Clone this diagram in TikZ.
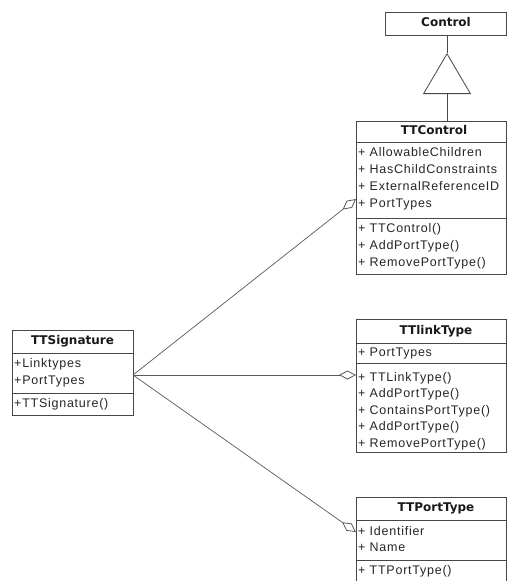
\documentclass[tikz,border=0pt]{standalone}
\usepackage{fontspec}
\setmainfont{DejaVu Sans}
\newfontfamily\memberfont[LetterSpace=6]{Liberation Sans}
\usetikzlibrary{arrows.meta}
\begin{document}
\begin{tikzpicture}[x=1pt,y=-1pt,
  umlline/.style={draw=black!72, line width=0.8pt},
  classbox/.style={umlline, fill=white, anchor=north west, inner sep=0pt, outer sep=0pt},
  member/.style={anchor=west, inner sep=0pt, text height=9pt, text depth=3pt,
    text=black!85, font=\memberfont\fontsize{12.5}{14}\selectfont},
  classtitle/.style={anchor=center, inner sep=0pt, text height=9pt, text depth=3pt,
    text=black!90, font=\fontsize{12}{14}\selectfont\bfseries},
  aggregation/.style={draw=black!65, line width=0.7pt,
    -{Diamond[open, length=17pt, width=9pt, line width=0.8pt]}},
  generalization/.style={umlline, -{Triangle[open, length=41pt, width=48pt, line width=0.8pt]}}
]
\useasboundingbox (0,0) rectangle (507,581);
\fill[white] (0,0) rectangle (507,581);
\clip (0,0) rectangle (507,581);

% ---------- Control ----------
\node[classbox, minimum width=121pt, minimum height=23pt] (control) at (385,12) {};
\node[classtitle] (controlT) at (446,23.5) {Control};

% ---------- TTControl ----------
\node[classbox, minimum width=150pt, minimum height=153pt] (ttcontrol) at (356,121) {};
\draw[umlline] (356,142) -- (506,142);
\draw[umlline] (356,218) -- (506,218);
\node[classtitle] (ttcontrolT) at (434,131.5) {TTControl};
\node[member] (c1) at (358,153) {+ AllowableChildren};
\node[member] (c2) at (358,170) {+ HasChildConstraints};
\node[member] (c3) at (358,187) {+ ExternalReferenceID};
\node[member] (c4) at (358,204) {+ PortTypes};
\node[member] (c5) at (358,229) {+ TTControl()};
\node[member] (c6) at (358,246) {+ AddPortType()};
\node[member] (c7) at (358,263) {+ RemovePortType()};

% ---------- TTSignature ----------
\node[classbox, minimum width=121pt, minimum height=85pt] (ttsig) at (12,330) {};
\draw[umlline] (12,353) -- (133,353);
\draw[umlline] (12,393) -- (133,393);
\node[classtitle] (ttsigT) at (72.5,341.5) {TTSignature};
\node[member] (s1) at (14,364) {+Linktypes};
\node[member] (s2) at (14,381) {+PortTypes};
\node[member] (s3) at (14,404) {+TTSignature()};

% ---------- TTlinkType ----------
\node[classbox, minimum width=150pt, minimum height=133pt] (ttlink) at (356,319) {};
\draw[umlline] (356,343) -- (506,343);
\draw[umlline] (356,363) -- (506,363);
\node[classtitle] (ttlinkT) at (436,331) {TTlinkType};
\node[member] (l1) at (358,353) {+ PortTypes};
\node[member] (l2) at (358,378) {+ TTLinkType()};
\node[member] (l3) at (358,394.5) {+ AddPortType()};
\node[member] (l4) at (358,411) {+ ContainsPortType()};
\node[member] (l5) at (358,427.5) {+ AddPortType()};
\node[member] (l6) at (358,444) {+ RemovePortType()};

% ---------- TTPortType ----------
\node[classbox, minimum width=150pt, minimum height=100pt] (ttport) at (356,497) {};
\draw[umlline] (356,520) -- (506,520);
\draw[umlline] (356,560) -- (506,560);
\node[classtitle] (ttportT) at (436,508.5) {TTPortType};
\node[member] (p1) at (358,532) {+ Identifier};
\node[member] (p2) at (358,548) {+ Name};
\node[member] (p3) at (358,571) {+ TTPortType()};

% ---------- connectors ----------
\coordinate (genapex) at (447,53);
\coordinate (genfoot) at (447,121);
\draw[umlline] (control.south -| genapex) -- (genapex);
\draw[generalization] (genfoot) -- (genapex);

\coordinate (sigport) at (133,375);
\coordinate (ctrlport) at (356,199);
\coordinate (linkport) at (356,375);
\coordinate (portport) at (356,532);
\draw[aggregation] (sigport) -- (ctrlport);
\draw[aggregation] (sigport) -- (linkport);
\draw[aggregation] (sigport) -- (portport);
\end{tikzpicture}
\end{document}
